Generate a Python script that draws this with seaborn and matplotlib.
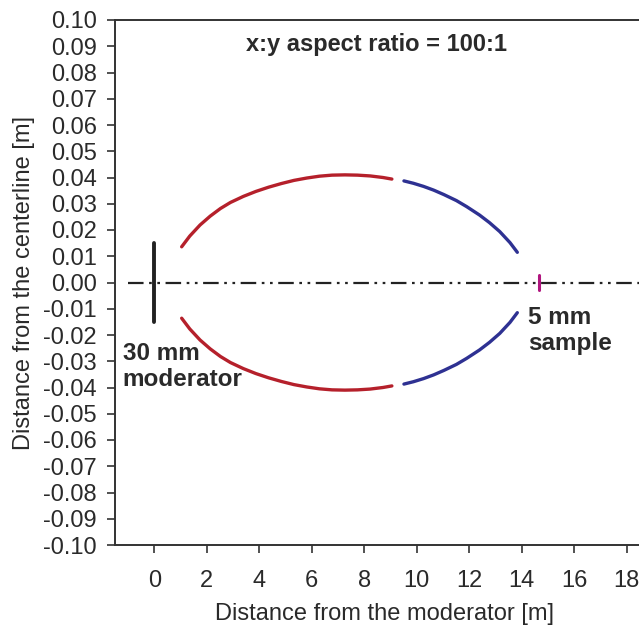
import numpy as np
import pandas as pd
import matplotlib
matplotlib.use("Agg")
import matplotlib.pyplot as plt
import seaborn as sns

# Upper arcs (lower arcs are mirror images)
red_x = [1.04, 1.35, 1.74, 2.13, 2.52, 2.90, 3.39, 3.87, 4.35, 4.84, 5.32, 5.81, 6.29, 6.77,
         7.26, 7.74, 8.22, 8.71, 9.05]
red_y = [0.0136, 0.0177, 0.0219, 0.0253, 0.0282, 0.0305, 0.0328, 0.0347, 0.0363, 0.0377,
         0.0389, 0.0398, 0.0405, 0.0409, 0.0410, 0.0409, 0.0406, 0.0400, 0.0394]
blue_x = [9.51, 9.87, 10.26, 10.64, 11.03, 11.51, 11.90, 12.39, 12.77, 13.16, 13.55, 13.83]
blue_y = [0.0387, 0.0378, 0.0366, 0.0352, 0.0335, 0.0312, 0.0289, 0.0257, 0.0228, 0.0194,
          0.0152, 0.0115]

moderator_x = [0.0, 0.0]
moderator_y = [-0.015, 0.015]
sample_x = [14.66, 14.66]
sample_y = [-0.0027, 0.0027]
center_x = [-1.01, 20.0]
center_y = [0.0, 0.0]

x_ticks = list(range(0, 20, 2))
y_ticks = [round(v, 2) + 0.0 for v in np.arange(-0.10, 0.1001, 0.01)]
y_labels = ["0.00" if abs(v) < 1e-9 else f"{v:.2f}" for v in y_ticks]

sns.set_theme(style="white")
plt.rcParams['font.family'] = ['Liberation Sans', 'DejaVu Sans']
plt.rcParams['axes.unicode_minus'] = False

fig = plt.figure(figsize=(6.39, 6.26), dpi=100)
ax = fig.add_axes([115/639, 1-545/626, 538/639, 525/626])

rows = []
for seg, xs, ys in [("red_up", red_x, red_y), ("red_dn", red_x, [-v for v in red_y]),
                    ("blue_up", blue_x, blue_y), ("blue_dn", blue_x, [-v for v in blue_y])]:
    for xv, yv in zip(xs, ys):
        rows.append({"seg": seg, "x": xv, "y": yv})
df = pd.DataFrame(rows)

palette = {"red_up": "#b5202b", "red_dn": "#b5202b", "blue_up": "#2e3192", "blue_dn": "#2e3192"}
sns.lineplot(data=df, x="x", y="y", hue="seg", palette=palette, sort=False,
             estimator=None, linewidth=2.4, legend=False, ax=ax)

# centerline dash-dot-dot
ax.plot(center_x, center_y, color="#222222", linewidth=1.6,
        dashes=[7, 2.5, 1.2, 2.5, 1.2, 2.5])
ax.plot(moderator_x, moderator_y, color="#222222", linewidth=2.8, solid_capstyle="round")
ax.plot(sample_x, sample_y, color="#b0157e", linewidth=2.2)

ax.text(-1.2, -0.0225, "30 mm\nmoderator", fontsize=17.5, fontweight="bold",
        color="#2a2a2a", va="top", ha="left", linespacing=1.2)
ax.text(14.23, -0.0088, "5 mm\nsample", fontsize=17.5, fontweight="bold",
        color="#2a2a2a", va="top", ha="left", linespacing=1.2)
ax.text(8.48, 0.0905, "x:y aspect ratio = 100:1", fontsize=17, fontweight="bold",
        color="#2a2a2a", va="center", ha="center")

ax.set_xticks(x_ticks)
ax.set_yticks(y_ticks)
ax.set_yticklabels(y_labels)
ax.set_xlim(-1.5, 19)
ax.set_ylim(-0.10, 0.10)
ax.tick_params(axis="both", direction="out", length=6, width=1.2, color="#333333",
               labelsize=17, labelcolor="#2a2a2a")
ax.tick_params(axis="y", pad=7, left=True)
ax.tick_params(axis="x", pad=12, bottom=True)
ax.set_xlabel("Distance from the moderator [m]", fontsize=17, color="#2a2a2a", labelpad=8)
ax.set_ylabel("Distance from the centerline [m]", fontsize=17, color="#2a2a2a", labelpad=6)

for s in ["left", "top", "bottom", "right"]:
    ax.spines[s].set_color("#333333")
    ax.spines[s].set_linewidth(1.4)
ax.grid(False)

fig.savefig("out.png", dpi=100)
